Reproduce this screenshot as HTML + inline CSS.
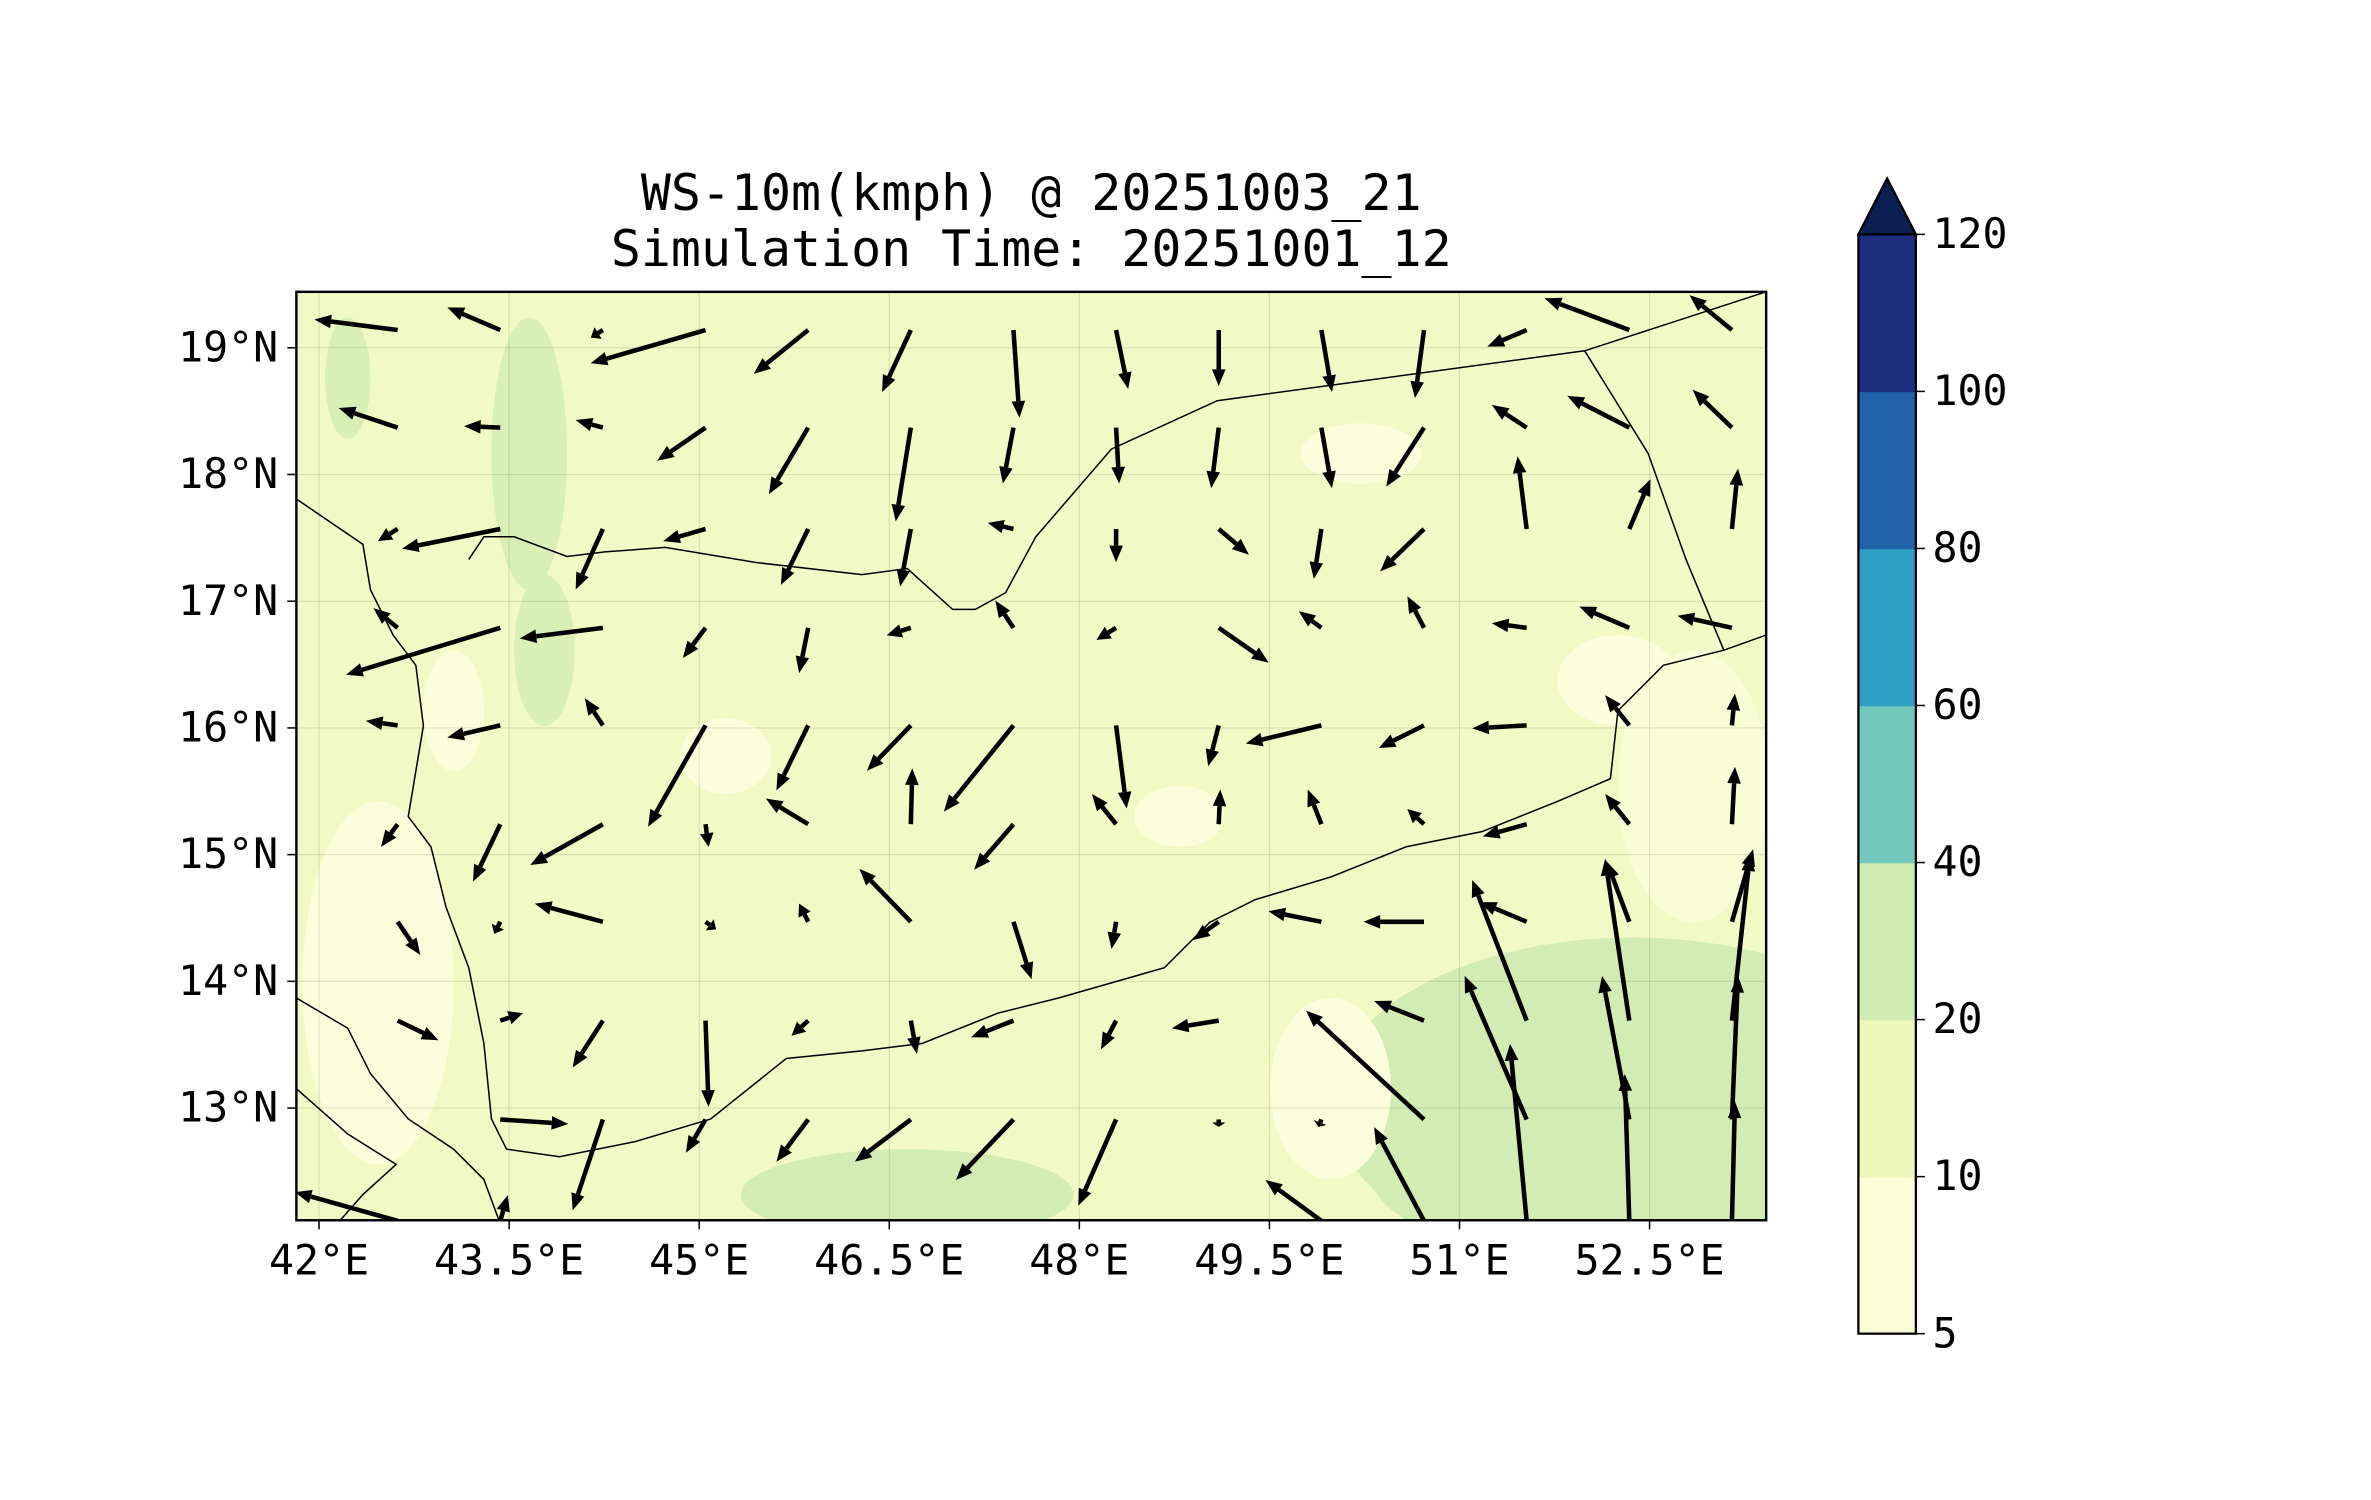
<!DOCTYPE html>
<html><head><meta charset="utf-8"><style>
html,body{margin:0;padding:0;background:#fff;}
svg{display:block;}
text{font-family:"DejaVu Sans Mono","Liberation Mono",monospace;fill:#000;}
</style></head><body>
<svg id="chart" width="2371" height="1500" viewBox="0 0 1568 992" preserveAspectRatio="none" xmlns="http://www.w3.org/2000/svg">
<rect width="1568" height="992" fill="#fff"/>
<text x="682" y="139" font-size="33" text-anchor="middle">WS-10m(kmph) @ 20251003_21</text>
<text x="682" y="176" font-size="33" text-anchor="middle">Simulation Time: 20251001_12</text>
<defs><clipPath id="mapclip"><rect x="196" y="193" width="972" height="614"/></clipPath></defs>
<g id="map" clip-path="url(#mapclip)">
<rect x="196" y="193" width="972" height="614" fill="#f1f9c4"/>
<g id="fills">
<ellipse cx="1080" cy="730" rx="200" ry="110" fill="#d2ecb3"/>
<ellipse cx="980" cy="760" rx="80" ry="60" fill="#d2ecb3"/>
<ellipse cx="600" cy="790" rx="110" ry="30" fill="#d2ecb3"/>
<ellipse cx="880" cy="720" rx="40" ry="60" fill="#fcfedb"/>
<ellipse cx="250" cy="650" rx="50" ry="120" fill="#fcfedb"/>
<ellipse cx="1070" cy="450" rx="40" ry="30" fill="#fcfedb"/>
<ellipse cx="1120" cy="520" rx="50" ry="90" fill="#f9fdd6"/>
<ellipse cx="300" cy="470" rx="20" ry="40" fill="#fcfedb"/>
<ellipse cx="350" cy="300" rx="25" ry="90" fill="#d8efb6"/>
<ellipse cx="360" cy="430" rx="20" ry="50" fill="#d8efb6"/>
<ellipse cx="230" cy="250" rx="15" ry="40" fill="#d8efb6"/>
<ellipse cx="780" cy="540" rx="30" ry="20" fill="#fcfedb"/>
<ellipse cx="480" cy="500" rx="30" ry="25" fill="#fcfedb"/>
<ellipse cx="900" cy="300" rx="40" ry="20" fill="#fcfedb"/>
</g>
<g id="grid" stroke="#000" stroke-opacity="0.1" stroke-width="0.8"></g>
<g id="coast" fill="none" stroke="#000" stroke-width="1">
<polyline points="196,330 240,360 245,390 260,420 275,440 280,480 270,540 285,560 295,600 310,640 320,690 325,740 335,760 370,765 420,755 470,740 520,700 570,695 610,690 660,670 700,660 735,650 770,640 800,610 830,595 880,580 930,560 980,550 1030,530 1065,515 1070,470 1100,440 1140,430 1168,420"/>
<polyline points="310,370 320,355 340,355 375,368 400,365 440,362 500,372 570,380 600,376 630,403 645,403 665,392 685,355 735,297 805,265 1048,232 1168,193"/>
<polyline points="1048,232 1090,300 1115,370 1140,430"/>
<polyline points="196,660 230,680 245,710 270,740 300,760 320,780 330,807"/>
<polyline points="196,720 230,750 262,770 240,790 225,807"/>
</g>
<g id="arrows"></g>
</g>
<rect x="196" y="193" width="972" height="614" fill="none" stroke="#000" stroke-width="1.6"/>
<g id="axes"></g>
<g id="cbar"></g>
<script>
const lonTicks = [42, 43.5, 45, 46.5, 48, 49.5, 51, 52.5];
const latTicks = [13, 14, 15, 16, 17, 18, 19];
const gridLons = [42.62,43.43,44.24,45.05,45.86,46.67,47.48,48.29,49.10,49.91,50.72,51.53,52.34,53.15];
const gridLats = [19.14,18.37,17.57,16.79,16.02,15.24,14.47,13.69,12.91,12.11];
const uWind = [
[-27.5,-17.5,-4,-38,-18,-9.5,2,4,0,3.5,-3,-13,-28,-14],
[-19.5,-12,-9,-16,-13,-5,-3.5,1,-2.5,3.5,-12.5,-11.5,-20.5,-13],
[-6.5,-32.5,-9,-14,-9,-3.5,-8.5,0,10,-2.5,-14.5,-3,7,2],
[-8,-51,-27.5,-7.5,-3,-8,-6,-6.5,16.5,-7.5,-5.5,-11.5,-16.5,-18],
[-10.5,-17.5,-6,-19,-10.5,-14.5,-23,3.5,-3.5,-25,-15,-18,-8,1],
[-5.5,-9,-24,1,-14,0.5,-13,-8,0.5,-4.5,-5.5,-14.5,-8,1],
[7.5,-2,-22.5,3.5,-3,-17,6,-1.5,-8.5,-17.5,-20,-15.5,-7.5,7],
[13.5,7.5,-10,1,-5.5,2,-14,-5,-15.5,null,-16.5,-18,-8,6],
[null,22.5,-10,-6.5,-10.5,-18.5,-19,-12.5,0,-1,-39,-20.5,-9,2],
[-34,2.5,null,null,null,null,null,null,null,-18.5,-16.5,-5.5,-1.5,1]];
const vWind = [
[3.5,7.5,-2.5,-11,-14.5,-20.5,-29,-19.5,-18.5,-20.5,-22.5,-5.5,10.5,11.5],
[6.5,0.5,2.5,-11,-22,-31,-18.5,-18.5,-20,-20,-19.5,7.5,10.5,12.5],
[-4,-6.5,-20,-4,-18.5,-19,2,-11,-8.5,-16.5,-14,24,16.5,20],
[6.5,-15.5,-3.5,-10,-15,-2.5,9,-4,-11.5,5.5,10.5,1.5,7,4],
[1.5,-4,9,-33.5,-21.5,-15,-28.5,-27.5,-13.5,-6,-7.5,-1,10,10.5],
[-7.5,-19,-13.5,-7.5,8.5,18.5,-15,10,11.5,11.5,5,-4,10,19],
[-11,-4,6,-2.5,6,17.5,-19,-9,-6,3.5,0,6.5,20,24],
[-6.5,2.5,-15.5,-28.5,-5,-11,-5.5,-9.5,-2.5,null,6.5,46.5,53.5,55],
[null,-1.5,-30,-11,-14,-14,-20,-28.5,-2.5,-2.5,36,47.5,47.5,47.5],
[9.5,8.5,null,null,null,null,null,null,null,13.5,31,58.5,48.5,39.5]];
const cbarLevels = [5,10,20,40,60,80,100,120];
const cbarColors = ["#fcfed8","#eef8bd","#cfecb3","#73c8bd","#2ea0c5","#2163aa","#1d2e80"];
const cbarExtendColor = "#0b1f55";

const NS="http://www.w3.org/2000/svg";
function mk(t,a,p){const e=document.createElementNS(NS,t);for(const k in a)e.setAttribute(k,a[k]);p.appendChild(e);return e;}
const PX=83.8;
function xOf(lon){return 211+(lon-42)*PX;}
function yOf(lat){return 230-(lat-19)*PX;}
const UV=2;
const grid=document.getElementById('grid'), axes=document.getElementById('axes');
lonTicks.forEach(l=>{const x=xOf(l);
 const g=mk('line',{x1:x,x2:x,y1:193,y2:807},grid);
 
 
 const tk=mk('line',{x1:x,x2:x,y1:807,y2:813,stroke:'#000','stroke-width':1},axes);
 
 
 const t=mk('text',{x:x,y:843,'font-size':27.5,'text-anchor':'middle'},axes);t.textContent=l+'°E';
 
 
});
latTicks.forEach(l=>{const y=yOf(l);
 const g=mk('line',{x1:196,x2:1168,y1:y,y2:y},grid);
 
 
 const tk=mk('line',{x1:190,x2:196,y1:y,y2:y,stroke:'#000','stroke-width':1},axes);
 
 
 const t=mk('text',{x:184,y:y+9,'font-size':27.5,'text-anchor':'end'},axes);t.textContent=l+'°N';
 
 
});
const ar=document.getElementById('arrows');
gridLats.forEach((lat,r)=>gridLons.forEach((lon,c)=>{
 const u=uWind[r][c],v=vWind[r][c]; if(u==null||v==null)return;
 const x0=xOf(lon),y0=yOf(lat),dx=u*UV,dy=-v*UV,L=Math.hypot(dx,dy); if(L<1)return;
 const ux=dx/L,uy=dy/L,hl=Math.min(11,L*0.6),hw=4.5;
 const bx=x0+dx-ux*hl,by=y0+dy-uy*hl;
 const g=mk('g',{},ar);
 
 
 mk('line',{x1:x0,y1:y0,x2:bx,y2:by,stroke:'#000','stroke-width':3},g);
 mk('polygon',{points:`${x0+dx},${y0+dy} ${bx-uy*hw},${by+ux*hw} ${bx+uy*hw},${by-ux*hw}`,fill:'#000'},g);
}));
const cb=document.getElementById('cbar');
const cx=1229,cw=38,cTop=155,cBot=882,seg=(cBot-cTop)/cbarColors.length;
cbarColors.forEach((col,i)=>{
 const r=mk('rect',{x:cx,y:cBot-(i+1)*seg,width:cw,height:seg+0.5,fill:col},cb);
 
 
});
const tri=mk('polygon',{points:`${cx},${cTop} ${cx+cw/2},118 ${cx+cw},${cTop}`,fill:cbarExtendColor,stroke:'#000','stroke-width':1.5},cb);


const fr=mk('rect',{x:cx,y:cTop,width:cw,height:cBot-cTop,fill:'none',stroke:'#000','stroke-width':1.5},cb);


cbarLevels.forEach((lv,i)=>{const y=cBot-i*seg;
 mk('line',{x1:cx+cw,x2:cx+cw+6,y1:y,y2:y,stroke:'#000','stroke-width':1},cb);
 const t=mk('text',{x:cx+cw+11,y:y+9,'font-size':27.5},cb);t.textContent=lv;
 
 
});
</script>
</svg>
</body></html>
